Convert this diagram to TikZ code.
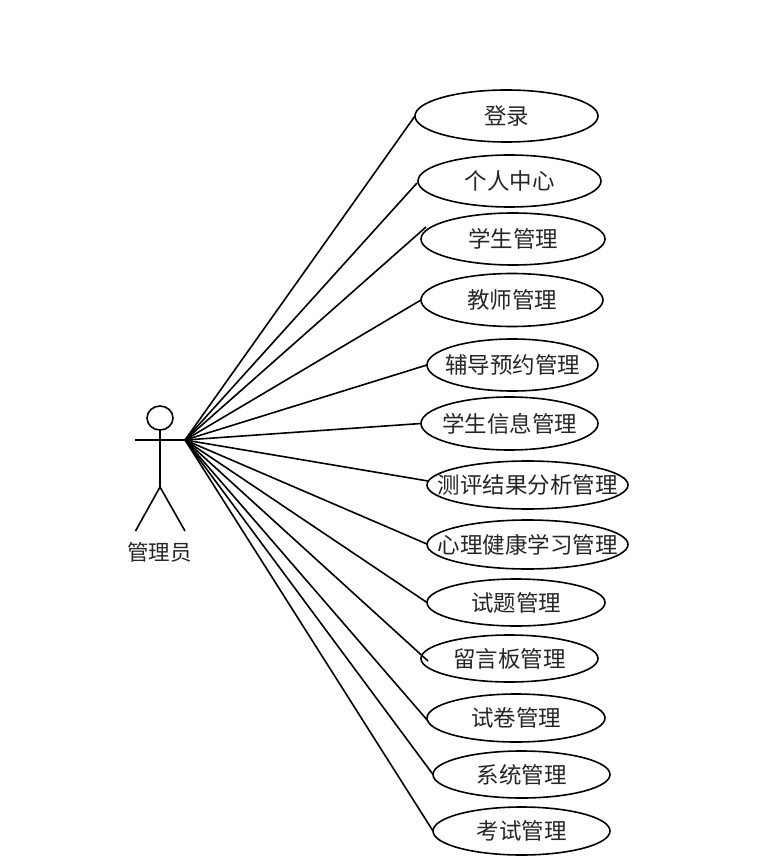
\documentclass[tikz,border=0pt]{standalone}
\usepackage{fontspec}
\setmainfont{Noto Sans CJK SC}
\usetikzlibrary{shapes.geometric}
\newcommand{\uctext}[1]{\raisebox{2pt}{\makebox[0pt][c]{#1}}}
\tikzset{
  usecase/.style={draw=black,line width=1.6pt,ellipse,inner sep=0pt,outer sep=0pt,align=center,font=\fontsize{22.5}{24}\selectfont,text=black!85},
  link/.style={draw=black,line width=1.6pt},
  figure/.style={draw=black,line width=1.6pt}
}
\begin{document}
\begin{tikzpicture}[x=1pt,y=-1pt]
\useasboundingbox (0,0) rectangle (756,866);
\fill[white] (0,0) rectangle (756,866);
\node[usecase,minimum width=183pt,minimum height=52pt] (e1) at (506.5,116) {\uctext{登录}};
\node[usecase,minimum width=183pt,minimum height=52pt] (e2) at (509.5,181) {\uctext{个人中心}};
\node[usecase,minimum width=184pt,minimum height=52pt] (e3) at (513,239) {\uctext{学生管理}};
\node[usecase,minimum width=182pt,minimum height=53pt] (e4) at (512,300) {\uctext{教师管理}};
\node[usecase,minimum width=171pt,minimum height=52pt] (e5) at (512.5,365) {\uctext{辅导预约管理}};
\node[usecase,minimum width=177pt,minimum height=53pt] (e6) at (509.5,423.5) {\uctext{学生信息管理}};
\node[usecase,minimum width=201pt,minimum height=48pt] (e7) at (527.5,485) {\uctext{测评结果分析管理}};
\node[usecase,minimum width=201pt,minimum height=49pt] (e8) at (527.5,544.5) {\uctext{心理健康学习管理}};
\node[usecase,minimum width=178pt,minimum height=47pt] (e9) at (516,602.5) {\uctext{试题管理}};
\node[usecase,minimum width=177pt,minimum height=47pt] (e10) at (509.5,658.5) {\uctext{留言板管理}};
\node[usecase,minimum width=178pt,minimum height=48pt] (e11) at (516,718) {\uctext{试卷管理}};
\node[usecase,minimum width=177pt,minimum height=47pt] (e12) at (521.5,774.5) {\uctext{系统管理}};
\node[usecase,minimum width=177pt,minimum height=48pt] (e13) at (521.5,831) {\uctext{考试管理}};
% actor
\node[draw=black,line width=1.6pt,ellipse,minimum width=26pt,minimum height=24pt,inner sep=0pt,outer sep=0pt] (head) at (160,418) {};
\coordinate (handL) at (135,440);
\coordinate (handR) at (185,440);
\coordinate (hip) at (160,487);
\coordinate (footL) at (135.5,531);
\coordinate (footR) at (185,531);
\draw[figure] (head.south) -- (hip);
\draw[figure] (handL) -- (handR);
\draw[figure] (footL) -- (hip) -- (footR);
\node[font=\fontsize{21.5}{24}\selectfont,text=black!85,inner sep=0pt] (actor) at (159.5,552) {管理员};
% connectors
\draw[link] (handR) -- (e1.west);
\draw[link] (handR) -- ([shift={(-1,2)}]e2.west);
\draw[link] (handR) -- ([shift={(5,-12)}]e3.west);
\draw[link] (handR) -- (e4.west);
\draw[link] (handR) -- (e5.west);
\draw[link] (handR) -- (e6.west);
\draw[link] (handR) -- ([shift={(1,-4)}]e7.west);
\draw[link] (handR) -- ([shift={(1,0)}]e8.west);
\draw[link] (handR) -- (e9.west);
\draw[link] (handR) -- ([shift={(7,2.5)}]e10.west);
\draw[link] (handR) -- ([shift={(1,3)}]e11.west);
\draw[link] (handR) -- (e12.west);
\draw[link] (handR) -- (e13.west);
\end{tikzpicture}
\end{document}
